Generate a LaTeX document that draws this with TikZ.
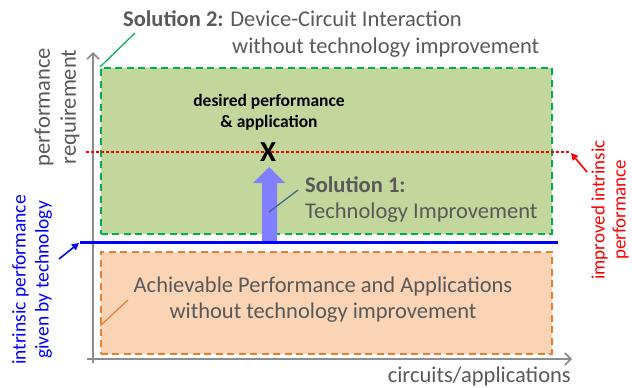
\documentclass[tikz,border=0pt]{standalone}
\usepackage{fontspec}
\setmainfont{Carlito}
\usetikzlibrary{arrows.meta}
\definecolor{txtgray}{HTML}{595959}
\definecolor{axisgray}{HTML}{8C8C8C}
\definecolor{fillgreen}{HTML}{C3D69B}
\definecolor{edgegreen}{HTML}{00B050}
\definecolor{fillorange}{HTML}{FAD4B4}
\definecolor{edgeorange}{HTML}{ED7D31}
\definecolor{arrowblue}{HTML}{8080FF}
\definecolor{leadblue}{HTML}{3A6491}
\begin{document}
\begin{tikzpicture}[x=1pt,y=-1pt,
  txt/.style={text=txtgray,font=\fontsize{22.5}{26}\selectfont,inner sep=0pt},
  boldtxt/.style={text=black,font=\fontsize{17.5}{21}\selectfont\bfseries,inner sep=0pt},
  sidetxt/.style={font=\fontsize{19.5}{23}\selectfont,inner sep=0pt,rotate=90,align=center},
  region/.style={draw,dashed,dash pattern=on 7pt off 4.5pt,line width=1.5pt,inner sep=0pt,anchor=north west},
  axis/.style={draw=axisgray,line width=2pt,-{Straight Barb[length=6pt,width=12pt,line width=1.6pt]}},
  pointer/.style={line width=1.6pt,-{Triangle[length=7pt,width=7pt]}},
  leader/.style={line width=1.2pt}]
\useasboundingbox (0,0) rectangle (632,388);

% solution regions
\node[region,draw=edgegreen,fill=fillgreen,minimum width=451pt,minimum height=166pt] (gbox) at (100,67) {};
\node[region,draw=edgeorange,fill=fillorange,minimum width=451pt,minimum height=102pt] (obox) at (100,251) {};

% axes
\coordinate (yfoot) at (93,363);
\coordinate (ytop) at (93,52);
\coordinate (xfoot) at (87,359);
\coordinate (xend) at (572,359);
\draw[axis] (yfoot) -- (ytop);
\draw[axis] (xfoot) -- (xend);

% improved intrinsic performance level
\coordinate (redL) at (86,152);
\coordinate (redR) at (570,152);
\draw[red,line width=2.8pt,dash pattern=on 2.6pt off 2.4pt] (redL) -- (redR);

% technology improvement arrow
\fill[arrowblue] (262,243) -- (262,183) -- (253,183) -- (269,167) -- (285,183) -- (277,183) -- (277,243) -- cycle;

% intrinsic performance level
\coordinate (blueL) at (80,242);
\coordinate (blueR) at (558,242);
\draw[blue,line width=3pt] (blueL) -- (blueR);

% texts
\node[txt,anchor=base west] (s2a) at (123,27) {\textbf{Solution 2:} Device-Circuit Interaction};
\node[txt,anchor=base west] (s2b) at (232,53) {without technology improvement};
\node[boldtxt,anchor=base] (des1) at (269,106) {desired performance};
\node[boldtxt,anchor=base] (des2) at (269,127) {\& application};
\node[text=black,font=\fontsize{29}{29}\selectfont\bfseries,inner sep=0pt] (xmark) at (268,152) {X};
\node[txt,anchor=base west] (s1a) at (305,192) {\textbf{Solution 1:}};
\node[txt,anchor=base west] (s1b) at (305,218) {Technology Improvement};
\node[txt,anchor=base] (ach1) at (323,292) {Achievable Performance and Applications};
\node[txt,anchor=base] (ach2) at (323,318) {without technology improvement};
\node[txt,anchor=base east] (xlabel) at (571,382) {circuits/applications};
\node[txt,rotate=90,align=center] (ylabel) at (57,107) {performance\\requirement};
\node[sidetxt,text=blue] (bluelbl) at (32,280) {intrinsic performance\\given by technology};
\node[sidetxt,text=red,font=\fontsize{19}{21}\selectfont] (redlbl) at (610,210) {improved intrinsic\\performance};

% leader lines
\coordinate (g1) at (100,67);
\coordinate (g2) at (135,33);
\draw[leader,edgegreen] (g1) -- (g2);
\coordinate (o1) at (100,326);
\coordinate (o2) at (128,300);
\draw[leader,edgeorange] (o1) -- (o2);
\coordinate (t1) at (298,190);
\coordinate (t2) at (269,212);
\draw[leader,leadblue] (t1) -- (t2);
\coordinate (rp) at (587,172);
\coordinate (rq) at (571,153);
\draw[pointer,red] (rp) -- (rq);
\coordinate (bp) at (59,259);
\coordinate (bq) at (79,243);
\draw[pointer,blue] (bp) -- (bq);
\end{tikzpicture}
\end{document}
